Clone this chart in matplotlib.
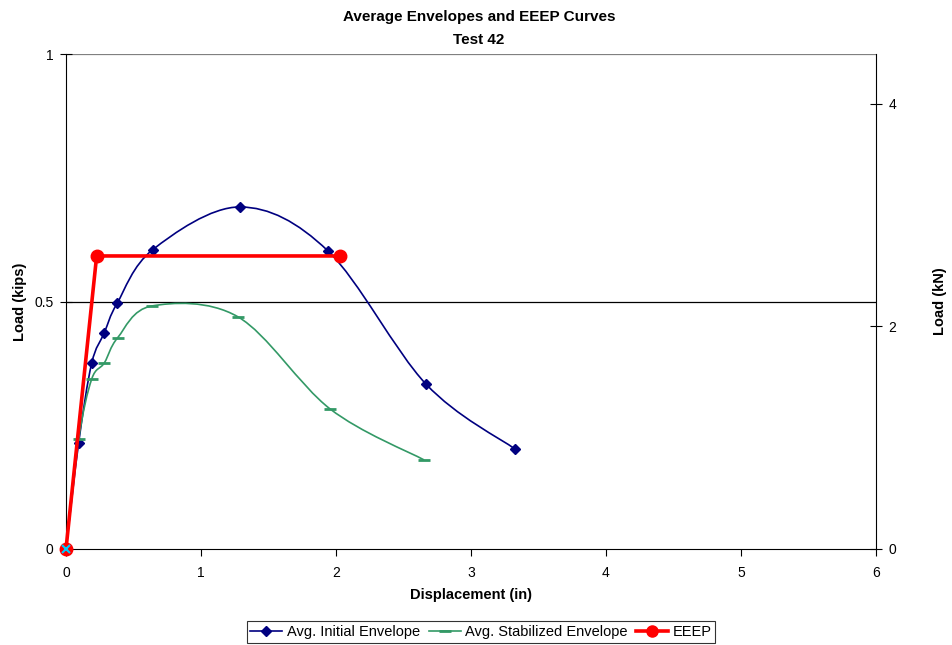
import numpy as np
import matplotlib
matplotlib.use("Agg")
import matplotlib.pyplot as plt
from matplotlib.path import Path
from matplotlib.patches import PathPatch
from matplotlib.lines import Line2D

plt.rcParams['font.family'] = ['Liberation Sans', 'DejaVu Sans']

# Data (displacement in inches, load in kips)
init_x = [0.0, 0.094, 0.19, 0.284, 0.378, 0.644, 1.289, 1.941, 2.667, 3.326]
init_y = [0.0, 0.215, 0.375, 0.437, 0.496, 0.605, 0.691, 0.602, 0.333, 0.202]
stab_x = [0.0, 0.094, 0.19, 0.284, 0.383, 0.637, 1.274, 1.956, 2.652]
stab_y = [0.0, 0.222, 0.343, 0.376, 0.427, 0.491, 0.469, 0.283, 0.180]
eeep_x = [0.0, 0.227, 2.03]
eeep_y = [0.0, 0.592, 0.592]
KIP_TO_KN = 4.448

def smooth_path(xs, ys):
    p = np.column_stack([xs, ys]).astype(float)
    n = len(p)
    verts = [p[0]]
    codes = [Path.MOVETO]
    for i in range(n - 1):
        p0 = p[i - 1] if i > 0 else p[i]
        p1 = p[i]
        p2 = p[i + 1]
        p3 = p[i + 2] if i + 2 < n else p[i + 1]
        c1 = p1 + (p2 - p0) / 6.0
        c2 = p2 - (p3 - p1) / 6.0
        verts += [c1, c2, p2]
        codes += [Path.CURVE4] * 3
    return Path(verts, codes)

fig = plt.figure(figsize=(9.52, 6.45), dpi=100)
ax = fig.add_axes([66/952, 96/645, 810/952, 495/645])

ax.set_xlim(0, 6)
ax.set_ylim(0, 1)
ax.set_xticks([0, 1, 2, 3, 4, 5, 6])
ax.set_yticks([0, 0.5, 1])
ax.set_yticklabels(['0', '0.5', '1'])
ax.axhline(0.5, color='black', lw=0.9, zorder=1)
ax.axhline(1.0, color='#808080', lw=0.9, zorder=1)

ax.spines['top'].set_visible(False)
ax.spines['right'].set_visible(False)

blue = '#000080'
green = '#339966'
red = '#FF0000'

ax.add_patch(PathPatch(smooth_path(init_x, init_y), fc='none', ec=blue, lw=1.2, zorder=3))
ax.plot(init_x, init_y, ls='none', marker='D', ms=5, color=blue, zorder=4, clip_on=False)
ax.add_patch(PathPatch(smooth_path(stab_x, stab_y), fc='none', ec=green, lw=1.2, zorder=3))
ax.plot(stab_x, stab_y, ls='none', marker='_', ms=8, mew=2, color=green, zorder=4, clip_on=False)
ax.plot(eeep_x, eeep_y, color=red, lw=2.6, marker='o', ms=9, zorder=5, clip_on=False)
ax.plot(eeep_x[:1], eeep_y[:1], ls='none', marker='x', ms=6, mew=1.5, color='#00CCFF',
        zorder=6, clip_on=False)

ax.tick_params(axis='x', direction='out', length=5, labelsize=10, pad=7)
ax.tick_params(axis='y', direction='inout', length=8, labelsize=10, pad=5)

ax2 = ax.twinx()
ax2.set_ylim(0, KIP_TO_KN)
ax2.set_yticks([0, 2, 4])
ax2.spines['top'].set_visible(False)
ax2.spines['left'].set_visible(False)
ax2.spines['bottom'].set_visible(False)
ax2.tick_params(axis='y', direction='inout', length=8, labelsize=10, pad=5)
ax2.set_ylabel('Load (kN)', fontsize=10.5, fontweight='bold')
ax2.yaxis.set_label_coords((933 - 66) / 810, 0.5)

ax.set_xlabel('Displacement (in)', fontsize=10.5, fontweight='bold', labelpad=6)
ax.set_ylabel('Load (kips)', fontsize=10.5, fontweight='bold')
ax.yaxis.set_label_coords((27 - 66) / 810, 0.5)

fig.text(0.503, 1 - 17/645, 'Average Envelopes and EEEP Curves', ha='center', va='center',
         fontsize=11, fontweight='bold')
fig.text(0.503, 1 - 40/645, 'Test 42', ha='center', va='center', fontsize=11, fontweight='bold')

handles = [
    Line2D([], [], color=blue, lw=1.2, marker='D', ms=5),
    Line2D([], [], color=green, lw=1.2, marker='_', ms=8, mew=2),
    Line2D([], [], color=red, lw=2.6, marker='o', ms=8),
]
leg = fig.legend(handles, ['Avg. Initial Envelope', 'Avg. Stabilized Envelope', 'EEEP'],
                 loc='center', bbox_to_anchor=(481/952, 1 - 632/645), ncol=3,
                 frameon=True, fancybox=False, edgecolor='black', fontsize=10.5,
                 handlelength=2.2, handletextpad=0.3, columnspacing=0.6,
                 borderpad=0.25, borderaxespad=0)
leg.get_frame().set_linewidth(0.8)

fig.savefig('out.png', dpi=100)
